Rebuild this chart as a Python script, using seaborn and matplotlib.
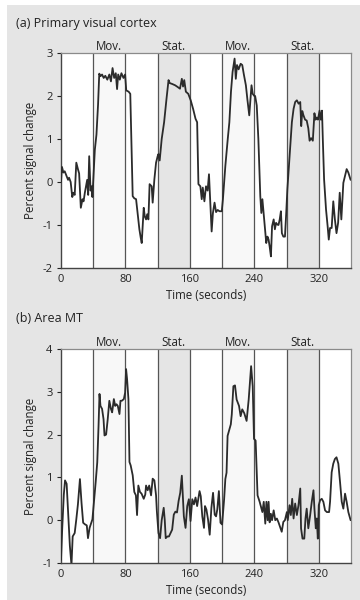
import matplotlib
matplotlib.use("Agg")
import matplotlib.pyplot as plt
from matplotlib.patches import Rectangle
import seaborn as sns
import pandas as pd

# ---------------- data ----------------
block_edges = [0, 40, 80, 120, 160, 200, 240, 280, 320, 360]
block_labels = ["", "Mov.", "", "Stat.", "", "Mov.", "", "Stat.", ""]
x_ticks = [0, 80, 160, 240, 320]

v1_time = [0, 1.2, 3, 4.6, 6.7, 8.75, 10, 12, 14, 15.5, 17, 19, 21, 22.5, 24.6, 26.7, 28, 29.6,
           31, 32.5, 33.75, 35, 36.7, 38, 39, 40.5, 42, 44, 46, 47.5, 49, 51, 53, 55, 57.5, 60,
           62, 64, 66, 68, 69.6, 71, 73, 75, 77.5, 79.6, 81, 84, 86, 89, 91, 93.2, 95, 97.3,
           99, 100.2, 102.7, 104, 105.6, 107, 108.5, 110, 112.6, 113.8, 115.9, 118, 120, 121,
           122.5, 125, 128, 131, 133.5, 135, 138, 141.6, 144, 147.7, 150, 151.5, 153, 155, 158,
           161, 164, 167, 169, 170.6, 173, 174.7, 176, 178, 180, 182, 183.7, 185, 187, 188.6,
           190.6, 192.5, 194.5, 196.7, 199.6, 201, 204, 207, 209, 211, 213, 215.5, 217, 218.5,
           220.5, 223, 225, 227, 229.5, 231.5, 233.7, 236.5, 238, 240, 241, 243, 245, 247.4,
           248.7, 250, 251.5, 253.6, 254.8, 256.3, 257.7, 259, 260.6, 262, 264, 265.5, 267,
           268.5, 270, 271.5, 273, 274.2, 276, 278, 279.6, 281, 283.7, 286.6, 288.7, 290.7,
           292.8, 295, 297, 298.2, 299.5, 301, 303, 305, 307, 308.6, 310.5, 312.6, 314.6, 316,
           317.5, 319, 321, 322.5, 324, 325, 326.6, 329, 331, 332.4, 334, 336, 338, 340, 342,
           344, 346, 348, 350.5, 352.6, 354.6, 356.7, 359.5]
v1_signal = [0.0, 0.35, 0.22, 0.25, 0.15, 0.05, 0.1, 0.0, -0.35, -0.25, -0.3, 0.45, 0.3, 0.2,
             -0.6, -0.4, -0.45, -0.25, -0.1, 0.05, -0.3, 0.6, -0.2, -0.1, -0.35, 0.2, 0.75, 1.1,
             1.8, 2.52, 2.46, 2.5, 2.42, 2.47, 2.38, 2.5, 2.34, 2.65, 2.42, 2.53, 2.16, 2.5, 2.38,
             2.53, 2.42, 2.5, 2.13, 2.1, 2.05, -0.33, -0.38, -0.4, -0.7, -1.1, -1.3, -1.42, -0.6,
             -0.8, -0.87, -0.75, -0.87, -0.05, -0.1, -0.48, 0.06, 0.45, 0.6, 0.65, 0.5, 1.0, 1.39,
             1.94, 2.37, 2.3, 2.28, 2.25, 2.22, 2.17, 2.4, 2.22, 2.37, 2.1, 2.05, 1.9, 1.7, 1.47,
             1.39, -0.05, -0.1, -0.4, -0.13, -0.45, -0.1, -0.2, 0.18, -0.33, -1.15, -0.72, -0.48,
             -0.7, -0.65, -0.68, -0.68, -0.4, 0.37, 1.0, 1.39, 2.1, 2.56, 2.87, 2.4, 2.72, 2.62,
             2.75, 2.72, 2.5, 2.25, 1.9, 1.55, 2.25, 2.05, 2.0, 2.0, 1.78, 1.0, -0.33, -0.72,
             -0.4, -0.72, -1.19, -1.42, -1.27, -1.34, -1.5, -1.73, -1.03, -0.87, -1.1, -0.95,
             -0.99, -1.0, -0.87, -0.68, -1.19, -1.27, -1.27, -0.72, -0.17, 0.6, 1.39, 1.7, 1.86,
             1.9, 1.82, 1.86, 1.3, 1.65, 1.55, 1.45, 1.43, 1.25, 0.96, 1.02, 0.96, 1.6, 1.45,
             1.5, 1.45, 1.66, 1.45, 1.66, 1.0, 0.06, -0.64, -1.03, -1.34, -1.07, -1.07, -0.45,
             -0.87, -1.19, -0.95, -0.25, -0.87, -0.02, 0.14, 0.3, 0.22, 0.05]

mt_time = [0, 1.5, 3.5, 5, 7, 9, 11, 13, 14.5, 17, 19, 21, 23.5, 25.5, 27.5, 30, 32, 33.5, 35.5,
           39, 41, 43, 45, 46.6, 47.8, 49, 51, 52.8, 54, 56, 58, 60, 62, 63.5, 65.6, 67.3, 68.9,
           70.5, 72.6, 73.8, 75.5, 78, 79.6, 80.8, 82, 83.7, 85, 86.5, 89, 91, 93, 94.4, 96, 98,
           100, 102.7, 104.6, 105.6, 107.6, 109.5, 111.8, 113.8, 115.9, 118, 119, 121, 123, 125,
           127.5, 128.8, 130, 132, 134, 136, 138, 140, 142, 144, 146, 148, 150, 152.5, 154.6,
           156.7, 158.75, 160.8, 163, 165, 167, 169, 172, 173.5, 175.4, 177.5, 178.75, 180.5,
           182.5, 184.6, 186.7, 188.75, 190.8, 192.5, 194, 196, 198, 200, 202.5, 204, 205.5,
           206.8, 210.8, 212, 214, 216, 218, 221, 223, 225, 227.5, 230.4, 233, 236, 238, 239.6,
           241.6, 244, 246.6, 248.5, 250, 251.7, 253.6, 255, 256.6, 257.7, 259, 260.5, 262, 264,
           266, 268, 270, 272, 274, 276, 278, 280.4, 281.5, 283.7, 285.3, 287, 288.7, 290.7,
           292.8, 294.8, 297, 298, 299.8, 302, 303.5, 305, 307, 309.3, 311.3, 313.4, 314.6,
           316.3, 317.5, 318.8, 320, 321.7, 323.7, 325.7, 327.8, 330, 332.8, 334, 336, 338, 340,
           342, 344.3, 346.4, 348.5, 350.5, 352.6, 354.6, 356.7, 359.5]
mt_signal = [-0.93, -0.2, 0.6, 0.93, 0.85, 0.1, -0.6, -1.05, -0.38, -0.3, 0.02, 0.37, 0.96, 0.4,
             -0.06, -0.1, -0.12, -0.42, -0.18, 0.02, 0.45, 0.88, 1.35, 2.2, 2.95, 2.67, 2.6, 2.36,
             1.98, 2.0, 2.36, 2.79, 2.6, 2.52, 2.83, 2.67, 2.71, 2.67, 2.48, 2.79, 2.79, 2.83,
             2.98, 3.53, 3.3, 2.83, 1.36, 1.28, 1.05, 0.66, 0.58, 0.12, 0.81, 0.66, 0.62, 0.5,
             0.6, 0.81, 0.7, 0.81, 0.58, 0.97, 0.93, 0.58, 0.21, -0.3, -0.42, 0.0, 0.29, 0.0,
             -0.42, -0.38, -0.38, -0.3, -0.22, 0.13, 0.2, 0.18, 0.45, 0.64, 1.04, 0.09, -0.18,
             0.33, 0.49, -0.02, 0.49, 0.37, 0.53, 0.33, 0.68, 0.56, 0.09, -0.18, 0.33, 0.25,
             0.02, -0.34, 0.29, 0.64, 0.13, 0.09, 0.25, 0.68, -0.06, -0.1, 0.49, 0.96, 1.11,
             1.97, 2.24, 2.47, 3.13, 3.15, 2.82, 2.67, 2.43, 2.59, 2.5, 2.32, 2.82, 3.6, 3.13,
             1.9, 1.86, 0.58, 0.43, 0.3, 0.19, 0.43, -0.08, 0.43, 0.0, 0.43, -0.05, 0.15, 0.0,
             0.23, 0.0, 0.04, -0.05, -0.16, -0.27, -0.04, 0.0, 0.19, 0.0, 0.35, 0.12, 0.5, 0.04,
             0.39, 0.12, 0.35, 0.74, -0.19, -0.43, -0.43, 0.04, 0.27, -0.19, 0.12, 0.43, 0.7,
             0.27, -0.19, 0.04, -0.43, 0.35, 0.47, 0.5, 0.43, 0.23, 0.19, 0.19, 0.43, 1.12, 1.32,
             1.43, 1.47, 1.32, 0.89, 0.43, 0.27, 0.62, 0.43, 0.19, 0.0]

panels = [
    dict(title="(a) Primary visual cortex", t=v1_time, y=v1_signal, ylim=(-2, 3),
         yticks=[-2, -1, 0, 1, 2, 3]),
    dict(title="(b) Area MT", t=mt_time, y=mt_signal, ylim=(-1, 4),
         yticks=[-1, 0, 1, 2, 3, 4]),
]

# ---------------- style ----------------
sns.set_theme(style="white")
plt.rcParams["font.family"] = ["Open Sans", "DejaVu Sans"]
plt.rcParams["axes.unicode_minus"] = False

W, H = 360, 600
fig = plt.figure(figsize=(W / 100, H / 100), dpi=100)
fig.patch.set_facecolor("white")
panel_grey = "#e5e5e5"
fig.patches.append(Rectangle((7 / W, 0), 1 - 7 / W, 1 - 5 / H, transform=fig.transFigure,
                             facecolor=panel_grey, edgecolor="none", zorder=-10))

shade = {1: "#f8f8f8", 5: "#f8f8f8", 3: panel_grey, 7: panel_grey}
axes_px = [(61, 53, 351, 268), (61, 349, 351, 563)]
title_y = [24, 319]

for p, (l, t, r, b), ty in zip(panels, axes_px, title_y):
    ax = fig.add_axes([l / W, 1 - b / H, (r - l) / W, (b - t) / H])
    ax.set_facecolor("white")
    for i in range(len(block_edges) - 1):
        if i in shade:
            ax.axvspan(block_edges[i], block_edges[i + 1], color=shade[i], lw=0, zorder=0)
    for e in block_edges[1:-1]:
        ax.axvline(e, color="#555555", lw=0.9, zorder=1)
    df = pd.DataFrame({"time": p["t"], "signal": p["y"]})
    sns.lineplot(data=df, x="time", y="signal", ax=ax, color="#2b2b2b", lw=1.3,
                 estimator=None, sort=False, zorder=3)
    ax.set_xlim(0, 360)
    ax.set_ylim(*p["ylim"])
    ax.set_xticks(x_ticks)
    ax.set_yticks(p["yticks"])
    ax.tick_params(axis="x", length=0, pad=4, labelsize=8, colors="#222222")
    ax.tick_params(axis="y", length=3, width=0.8, pad=3, labelsize=8, colors="#222222",
                   left=True)
    for s in ["left", "bottom"]:
        ax.spines[s].set_color("#444444")
        ax.spines[s].set_linewidth(1.0)
    for s in ["top", "right"]:
        ax.spines[s].set_color("#8a8a8a")
        ax.spines[s].set_linewidth(0.9)
    ax.set_xlabel("Time (seconds)", fontsize=8.3, color="#222222", labelpad=3)
    ax.set_ylabel("Percent signal change", fontsize=8.3, color="#222222", labelpad=4)
    for i, lab in enumerate(block_labels):
        if lab:
            ax.text((block_edges[i] + block_edges[i + 1]) / 2, 1.0 + 7 / (b - t), lab,
                    transform=ax.get_xaxis_transform(), ha="center", va="center",
                    fontsize=8.3, color="#222222")
    fig.text(16 / W, 1 - ty / H, p["title"], ha="left", va="center", fontsize=9,
             color="#222222")

fig.savefig("out.png", dpi=100)
